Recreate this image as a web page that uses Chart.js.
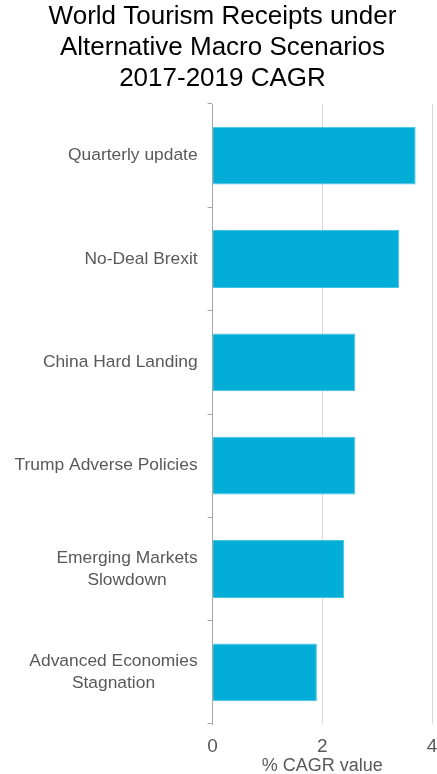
<!DOCTYPE html>
<html>
<head>
<meta charset="utf-8">
<script src="https://cdn.jsdelivr.net/npm/chart.js@4"></script>
<style>
  body { margin: 0; background: #fff; overflow: hidden; }
  #wrap { width: 449px; height: 774px; }
</style>
</head>
<body>
<!-- canvas is a bit wider than the page so the last x tick runs off the edge -->
<div id="wrap"><canvas id="cagrChart" width="449" height="774"></canvas></div>
<script>
// scenarios, top to bottom
const scenarios = [
  "Quarterly update",
  "No-Deal Brexit",
  "China Hard Landing",
  "Trump Adverse Policies",
  ["Emerging Markets", "Slowdown"],
  ["Advanced Economies", "Stagnation"]
];
// 2017-2019 CAGR, %
const cagr = [3.7, 3.4, 2.6, 2.6, 2.4, 1.9];
const xTicks = [0, 2, 4];

const FONT = "'Liberation Sans', Arial, sans-serif";
const GREY = "#595959";
const LABEL_SIZE = 17.4;

// y labels: block sits right-aligned next to the axis, lines centred inside it
const scenarioLabels = {
  id: "scenarioLabels",
  afterDraw(chart) {
    const ctx = chart.ctx;
    const ys = chart.scales.y;
    const right = chart.chartArea.left - 15;
    ctx.save();
    ctx.font = LABEL_SIZE + "px " + FONT;
    ctx.fillStyle = GREY;
    ctx.textAlign = "center";
    ctx.textBaseline = "middle";
    scenarios.forEach((lab, i) => {
      const lines = Array.isArray(lab) ? lab : [lab];
      const w = Math.max(...lines.map(l => ctx.measureText(l).width));
      const cx = right - w / 2;
      const cy = ys.getPixelForTick(i);
      const lh = 22;
      lines.forEach((l, j) => {
        ctx.fillText(l, cx, cy + (j - (lines.length - 1) / 2) * lh);
      });
    });
    ctx.restore();
  }
};

new Chart(document.getElementById("cagrChart"), {
  type: "bar",
  data: {
    labels: scenarios,
    datasets: [{
      data: cagr,
      backgroundColor: "#02ADD8",
      borderColor: "#45C3E5",
      borderWidth: 1,
      barPercentage: 0.56,
      categoryPercentage: 1
    }]
  },
  options: {
    indexAxis: "y",
    responsive: false,
    animation: false,
    layout: { padding: { left: -4, right: 0, top: 0, bottom: 0 } },
    plugins: {
      legend: { display: false },
      tooltip: { enabled: false },
      title: {
        display: true,
        text: ["World Tourism Receipts under", "Alternative Macro Scenarios", "2017-2019 CAGR"],
        color: "#000",
        font: { family: FONT, size: 26, weight: "normal", lineHeight: 31 / 26 },
        padding: { top: 1, bottom: 10 }
      }
    },
    scales: {
      x: {
        min: 0,
        max: 4,
        afterBuildTicks: axis => { axis.ticks = xTicks.map(v => ({ value: v })); },
        grid: { color: "#D9D9D9", drawTicks: false },
        border: { display: false },
        ticks: {
          color: GREY,
          padding: 11.6,
          font: { family: FONT, size: 19 }
        },
        title: {
          display: true,
          text: "% CAGR value",
          color: GREY,
          font: { family: FONT, size: 18, lineHeight: 1 },
          padding: { top: -13, bottom: -1 }
        }
      },
      y: {
        grid: { drawOnChartArea: false, color: "#A6A6A6", tickLength: 5 },
        border: { color: "#A6A6A6" },
        ticks: {
          color: "rgba(0,0,0,0)",
          padding: 14.3,
          font: { family: FONT, size: LABEL_SIZE, lineHeight: 1.3 }
        }
      }
    }
  },
  plugins: [scenarioLabels]
});
</script>
</body>
</html>
